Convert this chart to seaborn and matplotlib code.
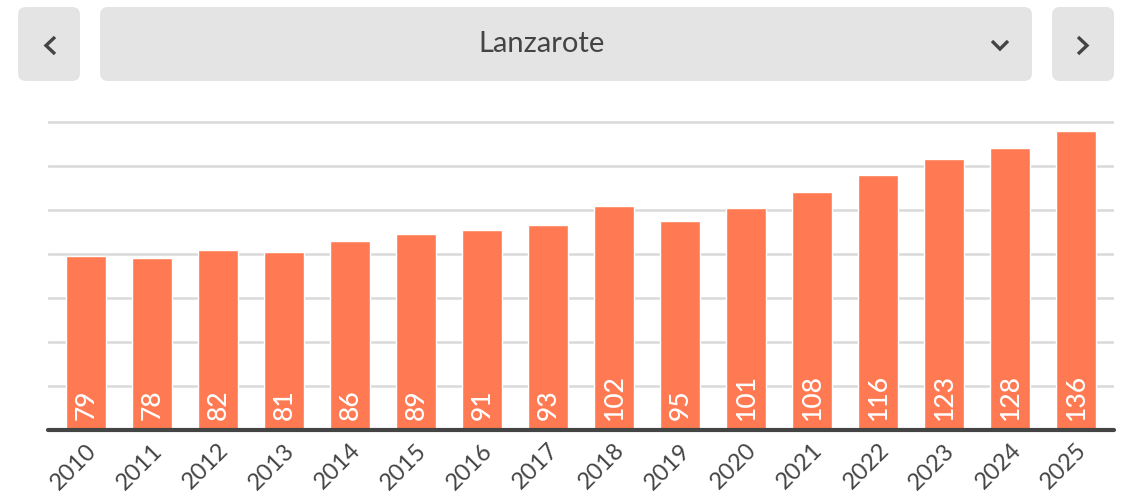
import matplotlib
matplotlib.use("Agg")
import matplotlib.pyplot as plt
from matplotlib.patches import FancyBboxPatch
import seaborn as sns
import pandas as pd

years = [str(y) for y in range(2010, 2026)]
values = [79, 78, 82, 81, 86, 89, 91, 93, 102, 95, 101, 108, 116, 123, 128, 136]
island = "Lanzarote"
grid_ticks = [20, 40, 60, 80, 100, 120, 140]

bar_color = "#FF7A52"
text_dark = "#444444"
ui_grey = "#E4E4E4"

sns.set_style("white")
plt.rcParams['font.family'] = ['Lato', 'DejaVu Sans']

df = pd.DataFrame({'year': years, 'value': values})

fig = plt.figure(figsize=(11.26, 5.01), dpi=100)

# chart area
ax = fig.add_axes([48 / 1126, 71 / 501, 1066 / 1126, 310.2 / 501])
sns.barplot(data=df, x='year', y='value', color=bar_color, width=0.6,
            saturation=1, ax=ax, zorder=3)
ax.set_xlim(-0.576, 15.576)
ax.set_ylim(0, 141)
for t in grid_ticks:
    ax.axhline(t, color="#D9D9D9", lw=1.8, zorder=1)
ax.axhline(0, color=text_dark, lw=3, zorder=4, clip_on=False)
ax.set_yticks([])
ax.set_xlabel('')
ax.set_ylabel('')
sns.despine(ax=ax, left=True, bottom=True)
ax.tick_params(axis='x', length=0, pad=7)
ax.set_xticks(range(len(years)))
ax.set_xticklabels(years, rotation=45, ha='right', rotation_mode='anchor',
                   fontsize=17, color=text_dark)

for i, v in enumerate(values):
    ax.annotate(str(v), (i, 0), xytext=(0, 7), textcoords='offset points',
                rotation=90, ha='center', va='bottom', color='white',
                fontsize=19, fontweight='medium', zorder=5)

# selector bar on top
ui = fig.add_axes([0, 0, 1, 1], zorder=-1)
ui.set_xlim(0, 1126)
ui.set_ylim(501, 0)
ui.axis('off')
for x0, x1 in [(18, 80), (100, 1032), (1052, 1114)]:
    ui.add_patch(FancyBboxPatch((x0 + 8, 15), x1 - x0 - 16, 58,
                                boxstyle="round,pad=8", fc=ui_grey, ec='none'))
ui.text(542, 44, island, ha='center', va='center', fontsize=21, color=text_dark)
chev = dict(color=text_dark, lw=2.4, solid_capstyle='butt', solid_joinstyle='miter')
ui.plot([55, 46, 55], [37, 45.5, 54], **chev)
ui.plot([1078, 1087, 1078], [37, 45.5, 54], **chev)
ui.plot([992, 1000, 1008], [41, 49, 41], **chev)

fig.savefig("out.png", dpi=100)
